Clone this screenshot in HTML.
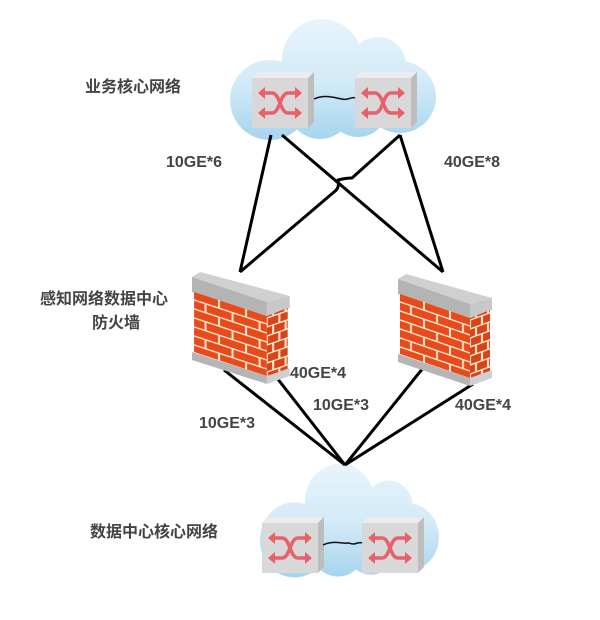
<!DOCTYPE html>
<html><head><meta charset="utf-8"><style>
html,body{margin:0;padding:0;background:#fff;width:600px;height:620px;overflow:hidden}
text{font-family:"Liberation Sans","Noto Sans CJK SC",sans-serif;font-weight:bold;fill:#444}
</style></head><body>
<svg width="600" height="620" viewBox="0 0 600 620" xmlns="http://www.w3.org/2000/svg">
<defs>
<linearGradient id="cg" gradientUnits="userSpaceOnUse" x1="0" y1="0" x2="0" y2="125">
<stop offset="0" stop-color="#eaf5fc"/><stop offset="0.55" stop-color="#d2eaf7"/><stop offset="1" stop-color="#a6d4ee"/></linearGradient>
<g id="cloud" fill="url(#cg)">
<circle cx="94" cy="44" r="40"/><circle cx="150" cy="50" r="28"/><circle cx="42" cy="85" r="40"/>
<circle cx="172" cy="82" r="36"/><circle cx="92" cy="92" r="32"/><circle cx="130" cy="92" r="30"/>
<ellipse cx="106" cy="82" rx="96" ry="30"/>
</g>
<g id="sw">
<polygon points="0,6 6,0 62,0 56,6" fill="#ececec"/>
<polygon points="56,6 62,0 62,50 56,56" fill="#bdbdbd"/>
<rect x="0" y="6" width="56" height="50" fill="#d8d8d8"/>
<g stroke="#e8606a" stroke-width="3.5" fill="none">
<path d="M9,21 H20 C28,21 28,41 36,41 H47"/><path d="M9,41 H20 C28,41 28,21 36,21 H47"/>
</g>
<g fill="#e8606a">
<polygon points="6,21 13,15 13,27"/><polygon points="50,21 43,15 43,27"/>
<polygon points="6,41 13,35 13,47"/><polygon points="50,41 43,35 43,47"/>
</g>
</g>
<pattern id="brick" width="26" height="18" patternUnits="userSpaceOnUse" patternTransform="skewY(19)">
<rect width="26" height="18" fill="#ffe6c8"/>
<rect x="1" y="1" width="24" height="7.5" fill="#e84a1c"/>
<rect x="-12" y="10" width="24" height="7.5" fill="#e84a1c"/>
<rect x="14" y="10" width="24" height="7.5" fill="#e84a1c"/>
</pattern>
<pattern id="brick2" width="12" height="18" patternUnits="userSpaceOnUse" patternTransform="skewY(-20)">
<rect width="12" height="18" fill="#ffe6c8"/>
<rect x="1" y="1" width="10" height="7.5" fill="#d9431a"/>
<rect x="-5" y="10" width="10" height="7.5" fill="#d9431a"/>
<rect x="7" y="10" width="10" height="7.5" fill="#d9431a"/>
</pattern>
<g id="fw">
<polygon points="0,5 8,0 94,24 72,30" fill="#d0d0d0"/>
<polygon points="0,5 72,30 72,44 0,20" fill="#b4b4b4"/>
<polygon points="72,30 94,24 94,36 72,44" fill="#c8c8c8"/>
<polygon points="2,20 72,44 72,104 2,80" fill="url(#brick)"/>
<polygon points="72,44 92,36 92,98 72,104" fill="url(#brick2)"/>
<polygon points="0,80 72,104 72,112 0,88" fill="#b5b5b5"/>
<polygon points="72,104 94,96 94,104 72,112" fill="#cfcfcf"/>
</g>
</defs>
<use href="#cloud" transform="translate(228,15)"/><use href="#cloud" transform="translate(258,460) scale(0.87,0.94)"/>
<g stroke="#000" stroke-width="3" fill="none" stroke-linejoin="round">
<line x1="271" y1="135" x2="240" y2="272"/>
<line x1="282" y1="135" x2="443" y2="272"/>
<path d="M400,135 L352,178 Q346,178 338,180 Q340,188 334,192 L240,272"/>
<line x1="400" y1="135" x2="443" y2="272"/>
<line x1="224" y1="370" x2="345" y2="465"/>
<line x1="277" y1="378" x2="345" y2="465"/>
<line x1="423" y1="368" x2="345" y2="465"/>
<line x1="473" y1="384" x2="345" y2="465"/>
</g>
<use href="#fw" transform="translate(192,272) scale(1.04,1)"/>
<use href="#fw" transform="translate(398,274)"/>
<use href="#sw" transform="translate(252,72)"/>
<use href="#sw" transform="translate(355,72)"/>
<path d="M314,99 C325,94 335,98 342,99 C348,101 352,96 355,98" stroke="#111" stroke-width="1.5" fill="none"/>
<use href="#sw" transform="translate(262,517)"/>
<use href="#sw" transform="translate(362,517)"/>
<path d="M323,545 C333,540 343,544 349,543 C355,546 359,541 362,543" stroke="#111" stroke-width="1.5" fill="none"/>
<g font-size="16">
<text x="85" y="92">业务核心网络</text>
<text x="166" y="167">10GE*6</text>
<text x="444" y="167">40GE*8</text>
<text x="40" y="304">感知网络数据中心</text>
<text x="92" y="328">防火墙</text>
<text x="290" y="378">40GE*4</text>
<text x="313" y="410">10GE*3</text>
<text x="455" y="410">40GE*4</text>
<text x="199" y="428">10GE*3</text>
<text x="90" y="537">数据中心核心网络</text>
</g>
</svg>
</body></html>
